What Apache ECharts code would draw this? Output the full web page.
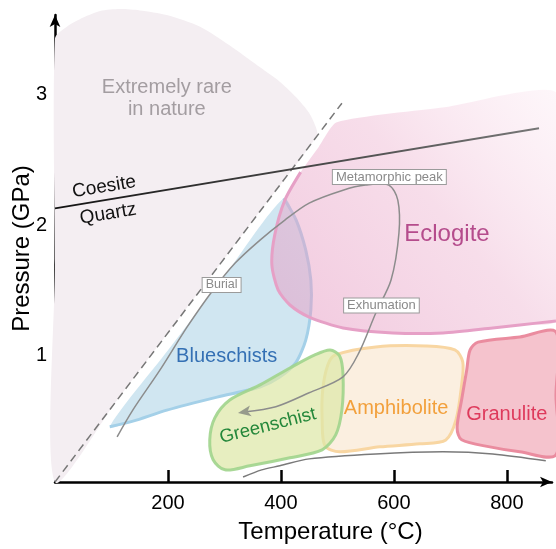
<!DOCTYPE html>
<html><head><meta charset="utf-8">
<script src="https://cdn.jsdelivr.net/npm/echarts@6/dist/echarts.min.js"></script>
<style>html,body{margin:0;padding:0;background:#fff}#c{width:556px;height:549px}</style>
</head><body><div id="c"></div>
<script>
// ---- data (Temperature °C, Pressure GPa) ----
const xTicks = [200, 400, 600, 800];
const yTicks = [1, 2, 3];
const rareRegion = [[0,0.035],[0,1.7],[0,3.43],[21,3.52],[50,3.59],[80,3.64],[115,3.655],[150,3.645],[198,3.61],[257,3.52],[315,3.36],[363,3.21],[395,3.11],[427,2.98],[450,2.86],[462,2.75],[464,2.684],[350,2.033],[230,1.348],[110,0.663]];
const blueschists = [[97,0.458],[200,1.043],[300,1.611],[405,2.207],[427,2.04],[444,1.81],[453,1.58],[453,1.35],[444,1.121],[427,0.953],[398,0.838],[363,0.762],[287,0.685],[198,0.585],[138,0.501]];
const eclogite = [[499,2.789],[690,2.904],[887,3.019],[887,2.14],[887,1.268],[823,1.237],[775,1.214],[687,1.176],[598,1.176],[510,1.214],[450,1.298],[416,1.39],[395,1.505],[384,1.696],[389,1.925],[407,2.193],[435,2.407],[467,2.6]];
const greenschist = [[310,0.664],[363,0.778],[416,0.908],[460,1.008],[487,1.046],[504,1.0],[510,0.855],[508,0.587],[497,0.396],[473,0.281],[416,0.22],[345,0.159],[301,0.128],[280,0.205],[274,0.358],[283,0.526]];
const amphibolite = [[496,1.007],[568,1.069],[657,1.076],[708,1.046],[722,0.954],[720,0.778],[710,0.51],[692,0.357],[646,0.327],[575,0.304],[504,0.266],[478,0.312],[473,0.511],[474,0.74],[483,0.931]];
const granulite = [[749,1.106],[823,1.145],[887,1.183],[887,0.7],[887,0.243],[823,0.266],[770,0.304],[720,0.358],[712,0.449],[720,0.664],[729,0.893],[735,1.046]];
const geotherm = [[0,0.035],[508,2.935]];
const coesiteQuartz = [[0,2.13],[857,2.743]];
const ptPath = [[110,0.381],[138,0.587],[186,0.893],[234,1.222],[280,1.505],[319,1.711],[363,1.887],[407,2.04],[450,2.17],[510,2.269],[550,2.308],[591,2.308],[607,2.193],[609,1.941],[595,1.581],[568,1.329],[538,1.023],[510,0.84],[450,0.718],[391,0.611],[324,0.563]];
const lowerCurve = [[333,0.073],[366,0.128],[398,0.159],[450,0.212],[568,0.25],[687,0.266],[775,0.25],[869,0.197]];
const labelTexts = ['Extremely rare\nin nature','Blueschists','Eclogite','Greenschist','Amphibolite','Granulite','Coesite','Quartz','Burial','Metamorphic peak','Exhumation'];
const labelAnchors = [[198,2.968],[304,0.999],[694,1.934],[377,0.464],[604,0.594],[800,0.552],[87,2.294],[94,2.087],[295,1.543],[592,2.37],[578,1.386]];

// ---- styles ----
const FONT = '"Liberation Sans", Arial, Helvetica, sans-serif';
const labelStyles = [
  {fill:'#a39da1', fontSize:20, lineHeight:22},
  {fill:'#3470b4', fontSize:20},
  {fill:'#b54c8c', fontSize:24},
  {fill:'#24873a', fontSize:18.5, rot:0.25},
  {fill:'#f2a03c', fontSize:20},
  {fill:'#de3a5c', fontSize:20},
  {fill:'#111', fontSize:19, rot:0.164},
  {fill:'#111', fontSize:19, rot:0.164},
  {fill:'#8a8a8a', fontSize:12.5, box:true},
  {fill:'#8a8a8a', fontSize:13, box:true},
  {fill:'#8a8a8a', fontSize:13, box:true}
];

function shapeSeries(points, kind, style, z, smooth) {
  return {
    type:'custom', coordinateSystem:'cartesian2d', z:z, silent:true, clip:false,
    data: points,
    renderItem: function (params, api) {
      if (params.dataIndex !== 0) return null;
      const pts = points.map(p => api.coord(p));
      return {type:kind, shape:{points:pts, smooth:smooth}, style:style};
    }
  };
}

const G = echarts.graphic;
const series = [
  shapeSeries(rareRegion, 'polygon', {fill:'#f4eef2'}, 1, 0.25),
  shapeSeries(blueschists, 'polygon', {fill:'#d0e6f1'}, 2, 0.25),
  shapeSeries(blueschists.slice(3).concat([blueschists[0]]), 'polyline', {stroke:'#a4d0e8', lineWidth:3, fill:null}, 3, 0.25),
  shapeSeries(eclogite, 'polygon', {fill:new G.LinearGradient(0,1,1,0,[{offset:0,color:'rgba(230,155,195,0.55)'},{offset:0.55,color:'rgba(236,175,205,0.42)'},{offset:1,color:'rgba(245,200,222,0.15)'}])}, 4, 0.2),
  shapeSeries(eclogite.slice(4, 17), 'polyline', {stroke:'#e6a0c6', lineWidth:3, fill:null}, 5, 0.25),
  shapeSeries(amphibolite, 'polygon', {fill:'#fbefe0', stroke:'#f8d6a2', lineWidth:3}, 6, 0.3),
  shapeSeries(greenschist, 'polygon', {fill:'rgba(222,232,168,0.72)', stroke:'rgba(160,212,140,0.9)', lineWidth:3}, 7, 0.3),
  shapeSeries(granulite, 'polygon', {fill:'#f5c3cd', stroke:'#ea8c9f', lineWidth:3}, 8, 0.3),
  shapeSeries(geotherm, 'polyline', {stroke:'#777', lineWidth:1.5, lineDash:[8,5], fill:null}, 9, 0),
  shapeSeries(coesiteQuartz, 'polyline', {stroke:new G.LinearGradient(0,0,1,0,[{offset:0,color:'#111'},{offset:1,color:'#777'}]), lineWidth:1.8, fill:null}, 10, 0),
  shapeSeries(lowerCurve, 'polyline', {stroke:'#7a7a7a', lineWidth:1.5, fill:null}, 10, 0.3),
  {
    type:'custom', coordinateSystem:'cartesian2d', z:11, silent:true, clip:false, data: ptPath,
    renderItem: function (params, api) {
      if (params.dataIndex !== 0) return null;
      const pts = ptPath.map(p => api.coord(p));
      const a = pts[pts.length-2], b = pts[pts.length-1];
      const ang = Math.atan2(b[1]-a[1], b[0]-a[0]);
      const L = 13, W = 5.5;
      const tip = b;
      const base = [tip[0]-L*Math.cos(ang), tip[1]-L*Math.sin(ang)];
      const nx = -Math.sin(ang), ny = Math.cos(ang);
      const head = [tip, [base[0]+W*nx, base[1]+W*ny], [base[0]+L*0.25*Math.cos(ang), base[1]+L*0.25*Math.sin(ang)], [base[0]-W*nx, base[1]-W*ny]];
      const line = pts.slice(0, -1).concat([[tip[0]-6*Math.cos(ang), tip[1]-6*Math.sin(ang)]]);
      return {type:'group', children:[
        {type:'polyline', shape:{points:line, smooth:0.3}, style:{stroke:'#8c8c8c', lineWidth:1.5, fill:null}},
        {type:'polygon', shape:{points:head}, style:{fill:'#979b8c'}}
      ]};
    }
  },
  {
    type:'custom', coordinateSystem:'cartesian2d', z:12, silent:true, clip:false, data: labelAnchors,
    renderItem: function (params, api) {
      const i = params.dataIndex;
      const p = api.coord(labelAnchors[i]);
      const s = labelStyles[i];
      const style = {text:labelTexts[i], fill:s.fill, fontSize:s.fontSize, fontFamily:FONT, align:'center', verticalAlign:'middle'};
      if (s.lineHeight) style.lineHeight = s.lineHeight;
      if (s.box) { style.backgroundColor = '#fff'; style.borderColor = '#9b9b9b'; style.borderWidth = 1; style.padding = [1,3,0,3]; }
      return {type:'text', x:p[0], y:p[1], rotation:s.rot || 0, style:style};
    }
  }
];

const chart = echarts.init(document.getElementById('c'), null, {renderer:'canvas'});
chart.setOption({
  animation:false,
  backgroundColor:'#fff',
  grid:{left:55, right:4, top:15, bottom:67, containLabel:false, outerBoundsMode:'none'},
  xAxis:{
    type:'value', min:0, max:880,
    name:'Temperature (°C)', nameLocation:'middle', nameGap:38,
    nameTextStyle:{color:'#000', fontSize:24, fontFamily:FONT, padding:[0,0,0,54]},
    axisLine:{show:true, onZero:false, symbol:['none','arrow'], symbolSize:[8,12], lineStyle:{color:'#000', width:2.5}},
    axisTick:{show:true, inside:true, length:12, customValues:xTicks, lineStyle:{color:'#000', width:2.5}},
    axisLabel:{show:true, customValues:xTicks, margin:11, color:'#000', fontSize:20, fontFamily:FONT},
    splitLine:{show:false}
  },
  yAxis:{
    type:'value', min:0.035, max:3.61,
    name:'Pressure (GPa)', nameLocation:'middle', nameGap:21, nameRotate:90, nameMoveOverlap:false,
    nameTextStyle:{color:'#000', fontSize:24, fontFamily:FONT},
    axisLine:{show:true, onZero:false, symbol:['none','arrow'], symbolSize:[8,12], lineStyle:{color:'#000', width:2.5}},
    axisTick:{show:true, inside:true, length:12, customValues:yTicks, lineStyle:{color:'#000', width:2.5}},
    axisLabel:{show:true, customValues:yTicks, margin:8, color:'#000', fontSize:20, fontFamily:FONT},
    splitLine:{show:false}
  },
  series: series
});
</script>
</body></html>
